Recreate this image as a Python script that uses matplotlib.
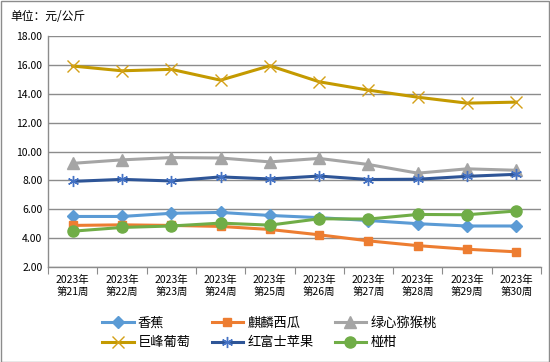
import matplotlib
matplotlib.use("Agg")
import matplotlib.pyplot as plt
from matplotlib.patches import Rectangle
from matplotlib.lines import Line2D

plt.rcParams['font.family'] = ['Noto Sans CJK SC', 'DejaVu Sans']

weeks = ["2023年\n第21周", "2023年\n第22周", "2023年\n第23周", "2023年\n第24周", "2023年\n第25周",
         "2023年\n第26周", "2023年\n第27周", "2023年\n第28周", "2023年\n第29周", "2023年\n第30周"]

banana = [5.50, 5.50, 5.72, 5.78, 5.57, 5.42, 5.22, 5.00, 4.84, 4.84]
watermelon = [4.88, 4.92, 4.88, 4.81, 4.60, 4.23, 3.81, 3.48, 3.23, 3.05]
kiwi = [9.18, 9.42, 9.58, 9.55, 9.28, 9.52, 9.10, 8.50, 8.80, 8.70]
grape = [15.92, 15.59, 15.69, 14.94, 15.94, 14.83, 14.25, 13.76, 13.35, 13.42]
apple = [7.93, 8.07, 7.96, 8.24, 8.10, 8.30, 8.06, 8.08, 8.28, 8.42]
citrus = [4.48, 4.74, 4.84, 5.04, 4.90, 5.34, 5.32, 5.64, 5.62, 5.88]

names = ["香蕉", "麒麟西瓜", "绿心猕猴桃", "巨峰葡萄", "红富士苹果", "椪柑"]

fig = plt.figure(figsize=(5.5, 3.62), dpi=100)
ax = fig.add_axes([48/550, 1-267/362, (541-48)/550, (267-36)/362])

x = list(range(len(weeks)))
lw = 2.2
star = (6, 2, 0)
h_banana, = ax.plot(x, banana, color='#5B9BD5', lw=lw, marker='D', ms=6, zorder=3)
h_melon, = ax.plot(x, watermelon, color='#ED7D31', lw=lw, marker='s', ms=6, zorder=3)
h_kiwi, = ax.plot(x, kiwi, color='#A5A5A5', lw=lw, marker='^', ms=8, zorder=3)
h_grape, = ax.plot(x, grape, color='#C49A00', lw=lw, marker='x', ms=8, mew=1.0, mec='#D4A017', zorder=3)
ax.plot(x, apple, color='#2E5597', lw=lw, zorder=3)
ax.plot(x, apple, color='none', lw=0, marker=star, ms=8, mew=1.0, mec='#4472C4', zorder=4)
h_apple = Line2D([], [], color='#2E5597', lw=lw, marker=star, ms=8, mew=1.0, mec='#4472C4')
h_citrus, = ax.plot(x, citrus, color='#70AD47', lw=lw, marker='o', ms=8, zorder=3)

ax.set_xlim(-0.5, len(weeks)-0.5)
ax.set_ylim(2, 18)
ax.set_yticks(range(2, 19, 2))
ax.set_yticklabels([f"{v:.2f}" for v in range(2, 19, 2)], fontsize=7.5)
ax.yaxis.grid(True, color='#8C8C8C', lw=1)
ax.set_axisbelow(True)
ax.tick_params(axis='y', length=0, pad=4)

ax.set_xticks([i-0.5 for i in range(len(weeks)+1)], minor=False)
ax.set_xticklabels([])
ax.set_xticks(x, minor=True)
ax.set_xticklabels(weeks, minor=True, fontsize=7.5, linespacing=1.15)
ax.tick_params(axis='x', which='major', length=5, color='#8C8C8C', direction='out')
ax.tick_params(axis='x', which='minor', length=0, pad=6)

for s in ['top', 'right']:
    ax.spines[s].set_visible(False)
for s in ['left', 'bottom']:
    ax.spines[s].set_color('#8C8C8C')
    ax.spines[s].set_linewidth(1)

fig.text(10/550, 1-17/362, "单位：元/公斤", fontsize=8.5, va='center', ha='left')

# column-major order so that rows read: 香蕉 麒麟西瓜 绿心猕猴桃 / 巨峰葡萄 红富士苹果 椪柑
handles = [h_banana, h_grape, h_melon, h_apple, h_kiwi, h_citrus]
labels = [names[0], names[3], names[1], names[4], names[2], names[5]]
leg = fig.legend(handles, labels, ncol=3, loc='center left', bbox_to_anchor=(90/550, 1-333/362),
                 frameon=False, fontsize=9.5, handlelength=2.4, columnspacing=1.6,
                 handletextpad=0.3, labelspacing=0.5)

fig.patches.append(Rectangle((0.5/550, 0.5/362), 1-1.5/550, 1-1.5/362, transform=fig.transFigure,
                             fill=False, edgecolor='#8C8C8C', lw=1))

fig.savefig("out.png", dpi=100)
